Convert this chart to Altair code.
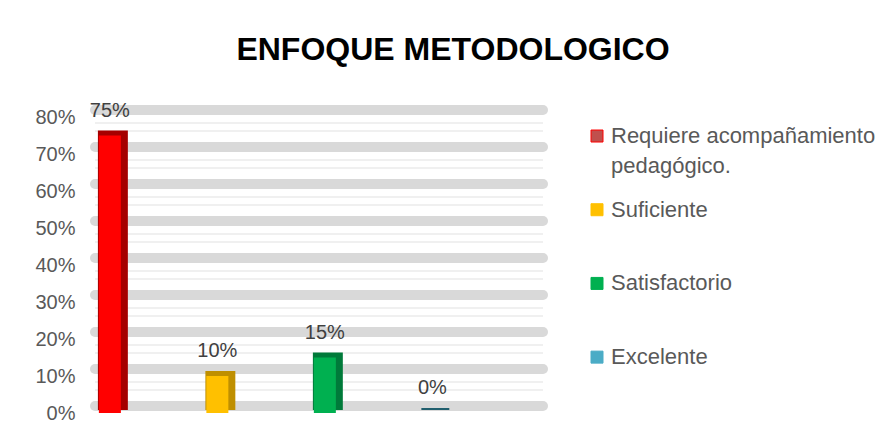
import altair as alt
import pandas as pd

categories = ["Requiere acompañamiento pedagógico.", "Suficiente", "Satisfactorio", "Excelente"]
values = [0.75, 0.10, 0.15, 0.0]
tick_values = [0, 0.1, 0.2, 0.3, 0.4, 0.5, 0.6, 0.7, 0.8]

front_colors = ["#ff0000", "#ffc000", "#00b050", "#31849b"]
side_colors = ["#a50000", "#bf8f00", "#007a3a", "#215f6e"]
legend_colors = ["#c0504d", "#ffc000", "#00b050", "#4bacc6"]
legend_strokes = ["#ff0000", "#ffc000", "#00b050", "#4bacc6"]

df = pd.DataFrame({"cat": categories, "val": values})
grid_df = pd.DataFrame({"t": tick_values})
stripe_df = pd.DataFrame({"t": tick_values[1:]})

FONT = "Liberation Sans"

x_enc = alt.X("cat:N", sort=categories, axis=None,
              scale=alt.Scale(paddingInner=0.74, paddingOuter=0.454, align=0.04))
y_scale = alt.Scale(domain=[0, 0.8], nice=False, zero=True)
y_axis = alt.Axis(values=tick_values, format=".0%", title=None, domain=False,
                  ticks=False, grid=False, labelFontSize=20, labelFont=FONT,
                  labelColor="#595959", labelPadding=20, labelOverlap=False)


def yq(field):
    return alt.Y(field, type="quantitative", scale=y_scale, axis=y_axis)


bands = alt.Chart(grid_df).mark_rule(
    color="#d9d9d9", strokeWidth=10, strokeCap="round", yOffset=-7
).encode(y=yq("t"))

stripe1 = alt.Chart(stripe_df).mark_rule(color="#f0f0f0", strokeWidth=2, yOffset=6).encode(y=yq("t"))
stripe2 = alt.Chart(stripe_df).mark_rule(color="#f0f0f0", strokeWidth=2, yOffset=14).encode(y=yq("t"))

side = alt.Chart(df).mark_bar(yOffset=-4, strokeWidth=2).encode(
    x=x_enc,
    y=yq("val"),
    color=alt.Color("cat:N", scale=alt.Scale(domain=categories, range=side_colors), legend=None),
    stroke=alt.Stroke("cat:N", scale=alt.Scale(domain=categories, range=side_colors), legend=None),
)

front = alt.Chart(df).mark_bar(width=22, xOffset=-3).encode(
    x=x_enc,
    y=yq("val"),
    color=alt.Color("cat:N", scale=alt.Scale(domain=categories, range=front_colors), legend=None),
)

labels = alt.Chart(df).mark_text(
    baseline="bottom", dy=-15, dx=-3, fontSize=20, font=FONT, color="#404040"
).encode(
    x=x_enc,
    y=yq("val"),
    text=alt.Text("val:Q", format=".0%"),
)

data_layer = alt.layer(bands, stripe1, stripe2, side, front, labels).resolve_scale(
    color="independent", stroke="independent"
)

leg_y = alt.Y("cat:N", sort=categories, axis=None,
              scale=alt.Scale(type="point", padding=0.508, align=0.254))

leg_symbols = alt.Chart(df).mark_square(size=144, opacity=1, strokeWidth=1).encode(
    x=alt.value(502),
    y=leg_y,
    color=alt.Color("cat:N", scale=alt.Scale(domain=categories, range=legend_colors), legend=None),
    stroke=alt.Stroke("cat:N", scale=alt.Scale(domain=categories, range=legend_strokes), legend=None),
)

leg_text = alt.Chart(df).transform_calculate(
    lbl="replace(datum.cat, 'acompañamiento ', 'acompañamiento\\n')"
).mark_text(
    align="left", baseline="alphabetic", dy=7, fontSize=22, font=FONT,
    color="#595959", lineBreak="\n", lineHeight=30
).encode(
    x=alt.value(516),
    y=leg_y,
    text="lbl:N",
)

legend_layer = alt.layer(leg_symbols, leg_text).resolve_scale(
    color="independent", stroke="independent"
)

chart = alt.layer(data_layer, legend_layer).resolve_scale(
    y="independent", color="independent", stroke="independent"
).properties(
    width=448, height=296,
    padding={"left": 87, "top": 109, "right": 334, "bottom": 25},
    autosize=alt.AutoSizeParams(type="none"),
    view=alt.ViewBackground(stroke=None, strokeWidth=0),
    title=alt.TitleParams("ENFOQUE METODOLOGICO", fontSize=32, font=FONT, fontWeight="bold",
                          color="#000000", anchor="middle", dx=134, offset=34),
).configure_view(stroke=None, strokeWidth=0).configure_axis(
    domain=False, ticks=False, grid=False
).configure(background="white")

chart.save("out.html", embed_options={"renderer": "svg", "actions": False})
